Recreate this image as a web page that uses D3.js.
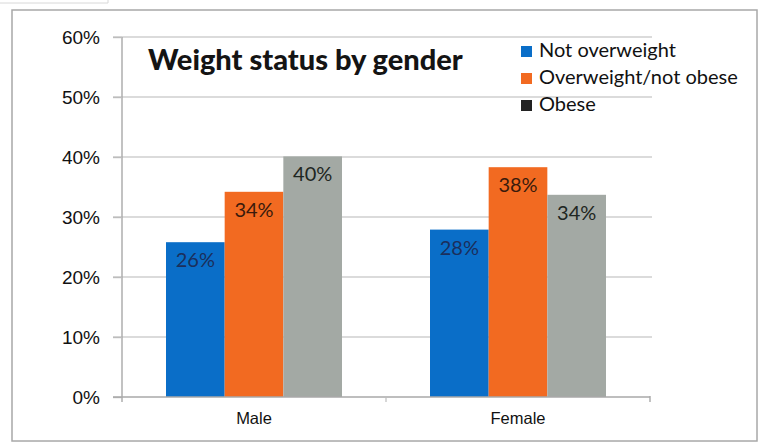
<!DOCTYPE html>
<html>
<head>
<meta charset="utf-8">
<script src="https://cdn.jsdelivr.net/npm/d3@7/dist/d3.min.js"></script>
<style>
  html, body { margin: 0; padding: 0; background: #fff; }
  svg { display: block; font-family: Lato, "Open Sans", sans-serif; }
</style>
</head>
<body>
<svg id="chart" width="762" height="447"></svg>
<script>
// ---- data ----
const categories = ["Male", "Female"];
const series = ["Not overweight", "Overweight/not obese", "Obese"];
const maleValues = [0.258, 0.342, 0.401];
const femaleValues = [0.279, 0.383, 0.337];
const yTicks = [0, 0.1, 0.2, 0.3, 0.4, 0.5, 0.6];
const title = "Weight status by gender";

const colors = ["#0a6ec8", "#f26a21", "#a3a9a4"];
const legendColors = ["#0a6ec8", "#f26a21", "#222222"];
const labelColors = ["#1b2f5c", "#3a1a0c", "#1e2622"];

const rows = [maleValues, femaleValues];
const data = categories.map((c, i) => ({
  category: c,
  values: series.map((s, j) => ({ series: s, idx: j, value: rows[i][j] }))
}));

const svg = d3.select("#chart");

// outer frame
svg.append("rect").attr("x", 12).attr("y", 10).attr("width", 745).attr("height", 431)
  .attr("fill", "#fff").attr("stroke", "#a8a8a8").attr("stroke-width", 1.5);
svg.append("path").attr("d", "M0,3H108V0").attr("fill", "none").attr("stroke", "#d8d8d8");

const plot = { left: 122, right: 650, top: 37, bottom: 397 };

const x = d3.scaleBand().domain(categories).range([plot.left, plot.right]).padding(0);
const xs = d3.scaleBand().domain(series).range([0, x.bandwidth()]).paddingInner(0).paddingOuter(0.75);
const y = d3.scaleLinear().domain([0, 0.6]).range([plot.bottom, plot.top]);

// gridlines
svg.append("g")
  .selectAll("line").data(yTicks.filter(t => t > 0)).join("line")
  .attr("x1", plot.left - 9).attr("x2", plot.right + 2)
  .attr("y1", d => y(d)).attr("y2", d => y(d))
  .attr("stroke", "#cfcfcf").attr("stroke-width", 1.4);

// y axis
const yAxis = d3.axisLeft(y).tickValues(yTicks).tickFormat(d3.format(".0%")).tickSize(9).tickPadding(13);
const gy = svg.append("g").attr("transform", `translate(${plot.left},0)`).call(yAxis);
gy.select(".domain").attr("stroke", "#a8a8a8").attr("stroke-width", 1.4).attr("d", `M0,${plot.top}V${plot.bottom + 5}`);
gy.selectAll(".tick line").attr("stroke", "#bdbdbd").attr("stroke-width", 1.4);
gy.selectAll(".tick text").attr("fill", "#111").style("font-size", "19px").attr("dy", "0.36em");

// bars
const groups = svg.append("g").selectAll("g").data(data).join("g")
  .attr("transform", d => `translate(${x(d.category)},0)`);
groups.selectAll("rect").data(d => d.values).join("rect")
  .attr("x", d => xs(d.series))
  .attr("width", xs.bandwidth())
  .attr("y", d => y(d.value))
  .attr("height", d => y(0) - y(d.value))
  .attr("fill", d => colors[d.idx]);

// data labels
groups.selectAll("text").data(d => d.values).join("text")
  .attr("x", d => xs(d.series) + xs.bandwidth() / 2)
  .attr("y", d => y(d.value) + 25)
  .attr("text-anchor", "middle")
  .attr("fill", d => labelColors[d.idx])
  .style("font-size", "20px")
  .text(d => d3.format(".0%")(d.value));

// x axis
const xAxis = d3.axisBottom(x).tickSize(0).tickPadding(15);
const gx = svg.append("g").attr("transform", `translate(0,${plot.bottom})`).call(xAxis);
gx.select(".domain").attr("stroke", "#a8a8a8").attr("stroke-width", 1.4).attr("d", `M${plot.left - 9},0H${plot.right}`);
gx.selectAll(".tick text").attr("fill", "#111").style("font-size", "16.5px");
// category boundary ticks
svg.append("g").selectAll("line").data([categories[1]]).join("line")
  .attr("x1", d => x(d)).attr("x2", d => x(d))
  .attr("y1", plot.bottom).attr("y2", plot.bottom + 5)
  .attr("stroke", "#bdbdbd").attr("stroke-width", 1.2);
svg.append("line").attr("x1", plot.right).attr("x2", plot.right)
  .attr("y1", plot.bottom - 1).attr("y2", plot.bottom + 5)
  .attr("stroke", "#a8a8a8").attr("stroke-width", 1.4);

// title
svg.append("text").attr("x", 148).attr("y", 70)
  .attr("fill", "#141414").style("font-size", "29px").style("font-weight", "900")
  .text(title);

// legend
const legend = svg.append("g").selectAll("g").data(series).join("g")
  .attr("transform", (d, i) => `translate(521,${46 + i * 27})`);
legend.append("rect").attr("width", 11).attr("height", 11).attr("fill", (d, i) => legendColors[i]);
legend.append("text").attr("x", 18).attr("y", 11)
  .attr("fill", "#111").style("font-size", "20px").text(d => d);
</script>
</body>
</html>
